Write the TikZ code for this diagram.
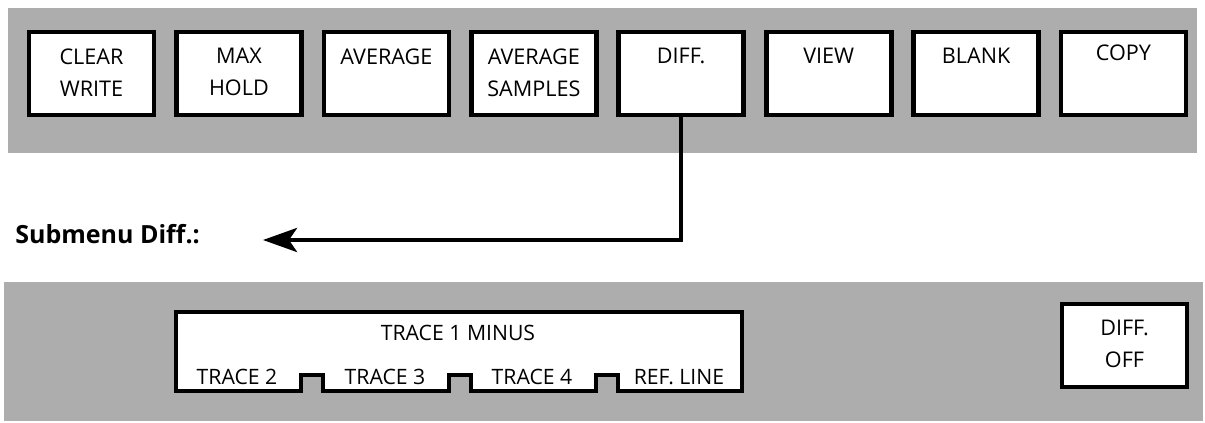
\documentclass[tikz,border=0pt]{standalone}
\usepackage{fontspec}
\setmainfont{Open Sans}
\usetikzlibrary{arrows.meta,positioning}
\tikzset{panel/.style={fill=black!32,draw=none},softkey/.style={draw=black,fill=white,line width=2.3pt,minimum width=62.5pt,minimum height=41.5pt,inner sep=0pt,outer sep=0pt,anchor=north west},keytext/.style={anchor=north,yshift=-8pt,inner sep=0pt,align=center,font=\fontsize{10.8pt}{16pt}\selectfont},tracetext/.style={inner sep=0pt,font=\fontsize{10.6pt}{16pt}\selectfont},menutitle/.style={inner sep=0pt,font=\fontsize{12.5pt}{15pt}\selectfont\bfseries},link/.style={line width=2.2pt,-{Stealth[length=17pt,width=12pt,inset=4pt]}}}

\begin{document}
\begin{tikzpicture}[x=0.5pt,y=-0.5pt]
\useasboundingbox (0,0) rectangle (1205,423);
% grey panels
\fill[panel] (8,8) rectangle (1197,153);
\fill[panel] (4,282) rectangle (1203,421);
% main menu soft keys
\node[softkey,label={[keytext]north:CLEAR\\WRITE}] (clear) at (29,32) {};
\node[softkey,label={[keytext]north:MAX\\HOLD}] (maxhold) at (176.4,32) {};
\node[softkey,label={[keytext]north:AVERAGE}] (average) at (323.9,32) {};
\node[softkey,label={[keytext]north:AVERAGE\\SAMPLES}] (avgsamples) at (471.3,32) {};
\node[softkey,label={[keytext]north:DIFF.}] (diff) at (618.7,32) {};
\node[softkey,label={[keytext]north:VIEW}] (view) at (766.2,32) {};
\node[softkey,label={[keytext]north:BLANK}] (blank) at (913.6,32) {};
\node[softkey,label={[keytext,yshift=2pt]north:COPY}] (copy) at (1061,32) {};
% submenu
\node[menutitle,anchor=base west] (submenu) at (15,243) {Submenu Diff.:};
\coordinate (tip) at (263,240);
\draw[link] (diff.south) |- (tip);
\draw[fill=white,line width=2.3pt,line join=miter] (176,312) -- (742,312) -- (742,391) -- (618,391) -- (618,375) -- (596,375) -- (596,391) -- (471,391) -- (471,375) -- (449,375) -- (449,391) -- (323,391) -- (323,375) -- (301,375) -- (301,391) -- (176,391) -- cycle;
\node[tracetext] (minus) at (458,333) {TRACE 1 MINUS};
\node[tracetext] (tr2) at (237,377) {TRACE 2};
\node[tracetext] (tr3) at (385,377) {TRACE 3};
\node[tracetext] (tr4) at (532,377) {TRACE 4};
\node[tracetext] (refline) at (679,377) {REF. LINE};
\node[softkey,label={[keytext]north:DIFF.\\OFF}] (diffoff) at (1062,304) {};
\end{tikzpicture}
\end{document}
